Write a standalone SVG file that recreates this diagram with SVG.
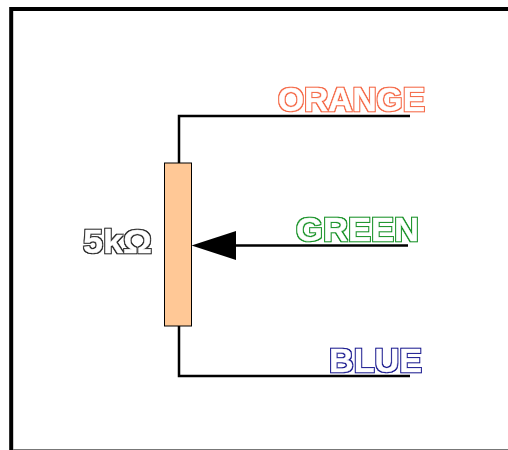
<svg xmlns="http://www.w3.org/2000/svg" width="508" height="450" viewBox="0 0 508 450">
<style>
.w{fill:none;stroke:#000;stroke-width:2.5}
.t{font-family:"Liberation Sans",Arial,sans-serif;font-weight:700;font-size:33px;fill:#fff;stroke:#fff;stroke-width:0.4}
</style>
<defs>
<filter id="ok" x="-10%" y="-20%" width="120%" height="140%" color-interpolation-filters="sRGB"><feMorphology in="SourceAlpha" operator="dilate" radius="0.8" result="d"/><feFlood flood-color="#222"/><feComposite in2="d" operator="in"/><feMerge><feMergeNode/><feMergeNode in="SourceGraphic"/></feMerge></filter>
<filter id="oo" x="-10%" y="-20%" width="120%" height="140%" color-interpolation-filters="sRGB"><feMorphology in="SourceAlpha" operator="dilate" radius="0.8" result="d"/><feFlood flood-color="#f4603c"/><feComposite in2="d" operator="in"/><feMerge><feMergeNode/><feMergeNode in="SourceGraphic"/></feMerge></filter>
<filter id="og" x="-10%" y="-20%" width="120%" height="140%" color-interpolation-filters="sRGB"><feMorphology in="SourceAlpha" operator="dilate" radius="0.8" result="d"/><feFlood flood-color="#0c8c1c"/><feComposite in2="d" operator="in"/><feMerge><feMergeNode/><feMergeNode in="SourceGraphic"/></feMerge></filter>
<filter id="ob" x="-10%" y="-20%" width="120%" height="140%" color-interpolation-filters="sRGB"><feMorphology in="SourceAlpha" operator="dilate" radius="0.8" result="d"/><feFlood flood-color="#14148c"/><feComposite in2="d" operator="in"/><feMerge><feMergeNode/><feMergeNode in="SourceGraphic"/></feMerge></filter>
</defs>
<rect width="508" height="450" fill="#fff"/>
<path d="M11.200 450V9H508" fill="none" stroke="#000" stroke-width="4"/>
<rect x="13" y="449" width="495" height="1" fill="#777"/>
<g id="connectors">
<path class="w" d="M410 116H179V163"/>
<path class="w" d="M179 326V376H410"/>
<path class="w" d="M408 245.500H230"/>
<polygon points="191.500,245.500 236,231 236,260"/>
</g>
<g id="resistor"><rect x="164.500" y="163" width="27" height="163" fill="#ffc896" stroke="#000"/></g>
<g id="label-5k"><text class="t" x="83" y="253" textLength="69" lengthAdjust="spacingAndGlyphs" filter="url(#ok)">5kΩ</text></g>
<g id="label-orange"><text class="t" x="278" y="110.500" textLength="147" lengthAdjust="spacingAndGlyphs" filter="url(#oo)">ORANGE</text></g>
<g id="label-green"><text class="t" x="296" y="240.500" textLength="123" lengthAdjust="spacingAndGlyphs" filter="url(#og)">GREEN</text></g>
<g id="label-blue"><text class="t" x="329" y="371.500" textLength="93" lengthAdjust="spacingAndGlyphs" filter="url(#ob)">BLUE</text></g>
</svg>
